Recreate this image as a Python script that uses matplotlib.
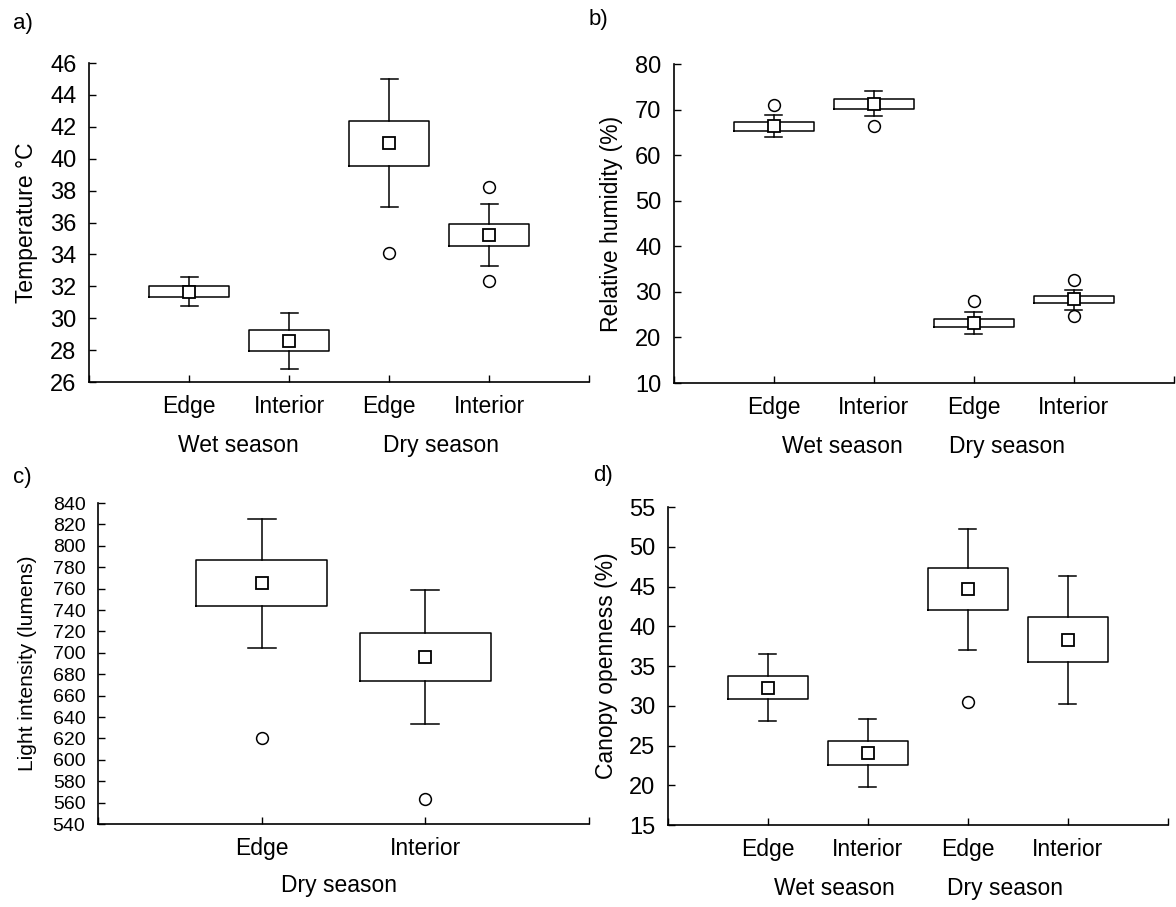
import matplotlib
matplotlib.use("Agg")
import matplotlib.pyplot as plt

plt.rcParams['font.family'] = ['Liberation Sans', 'DejaVu Sans']

# categories
cats4 = ['Edge', 'Interior', 'Edge', 'Interior']
cats2 = ['Edge', 'Interior']

# a) temperature
temp_mean = [31.66, 28.59, 40.98, 35.24]
temp_lo = [31.30, 27.92, 39.56, 34.55]
temp_hi = [32.00, 29.24, 42.38, 35.93]
temp_wlo = [30.77, 26.79, 36.95, 33.27]
temp_whi = [32.56, 30.35, 44.98, 37.18]
temp_out = [[], [], [34.09], [38.2, 32.35]]

# b) relative humidity
rh_mean = [66.3, 71.3, 23.2, 28.4]
rh_lo = [65.4, 70.2, 22.3, 27.5]
rh_hi = [67.3, 72.4, 24.0, 29.1]
rh_wlo = [63.9, 68.5, 20.8, 26.1]
rh_whi = [68.9, 74.1, 25.5, 30.5]
rh_out = [[71.0], [66.5], [28.1], [32.5, 24.6]]

# c) light intensity (dry season only)
light_mean = [765.4, 696.1]
light_lo = [743.9, 673.9]
light_hi = [786.3, 718.3]
light_wlo = [704.8, 633.3]
light_whi = [824.7, 758.8]
light_out = [[620.2], [563.1]]

# d) canopy openness
can_mean = [32.27, 24.08, 44.68, 38.28]
can_lo = [30.80, 22.57, 42.00, 35.48]
can_hi = [33.77, 25.54, 47.35, 41.13]
can_wlo = [28.05, 19.77, 37.07, 30.26]
can_whi = [36.57, 28.38, 52.28, 46.31]
can_out = [[], [], [30.43], []]


def make_stats(mean, lo, hi, wlo, whi, out):
    stats = []
    for i in range(len(mean)):
        stats.append(dict(mean=mean[i], med=mean[i], q1=lo[i], q3=hi[i],
                          whislo=wlo[i], whishi=whi[i], fliers=out[i]))
    return stats


def draw(ax, stats, cats, ylim, yticks, ylabel, fs_tick, fs_lab, labx):
    n = len(cats)
    pos = list(range(1, n + 1))
    ax.bxp(stats, positions=pos, widths=0.8, capwidths=0.17, showmeans=True,
           boxprops=dict(color='black', linewidth=1.1),
           whiskerprops=dict(color='black', linewidth=1.1),
           capprops=dict(color='black', linewidth=1.1),
           medianprops=dict(linewidth=0),
           meanprops=dict(marker='s', markerfacecolor='white', markeredgecolor='black',
                          markersize=8.5, markeredgewidth=1.3),
           flierprops=dict(marker='o', markerfacecolor='white', markeredgecolor='black',
                           markersize=8.5, markeredgewidth=1.1))
    ax.set_xlim(0, n + 1)
    ax.set_ylim(ylim)
    ax.set_yticks(yticks)
    ax.set_xticks(list(range(0, n + 2)))
    ax.set_xticklabels([''] + cats + [''], fontsize=16.5)
    ax.tick_params(axis='y', direction='in', length=5, width=1, pad=9, labelsize=fs_tick)
    ax.tick_params(axis='x', direction='in', length=5, width=1, pad=9)
    ax.spines['top'].set_visible(False)
    ax.spines['right'].set_visible(False)
    ax.spines['left'].set_linewidth(1.2)
    ax.spines['bottom'].set_linewidth(1.2)
    ax.set_ylabel(ylabel, fontsize=fs_lab, va='center')
    ax.yaxis.set_label_coords(labx, 0.5)


def season(ax, x, text, off):
    ax.annotate(text, xy=(x, 0), xycoords=('data', 'axes fraction'),
                xytext=(0, -off), textcoords='offset points',
                ha='center', va='center', fontsize=16.5)


fig = plt.figure(figsize=(11.76, 9.07), dpi=100)
ax1 = fig.add_axes([0.0757, 0.5788, 0.4252, 0.3517])
ax2 = fig.add_axes([0.5731, 0.5777, 0.4252, 0.3517])
ax3 = fig.add_axes([0.0833, 0.0915, 0.4175, 0.3539])
ax4 = fig.add_axes([0.5680, 0.0904, 0.4252, 0.3506])

draw(ax1, make_stats(temp_mean, temp_lo, temp_hi, temp_wlo, temp_whi, temp_out),
     cats4, (26, 46), range(26, 47, 2), 'Temperature °C', 17, 16.5, -0.126)
season(ax1, 1.49, 'Wet season', 46)
season(ax1, 3.52, 'Dry season', 46)

draw(ax2, make_stats(rh_mean, rh_lo, rh_hi, rh_wlo, rh_whi, rh_out),
     cats4, (10, 80), range(10, 81, 10), 'Relative humidity (%)', 17, 16.5, -0.124)
season(ax2, 1.68, 'Wet season', 46)
season(ax2, 3.33, 'Dry season', 46)

draw(ax3, make_stats(light_mean, light_lo, light_hi, light_wlo, light_whi, light_out),
     cats2, (540, 840), range(540, 841, 20), 'Light intensity (lumens)', 14, 15, -0.143)
season(ax3, 1.47, 'Dry season', 44)

draw(ax4, make_stats(can_mean, can_lo, can_hi, can_wlo, can_whi, can_out),
     cats4, (15, 55), range(15, 56, 5), 'Canopy openness (%)', 17, 16.5, -0.122)
season(ax4, 1.66, 'Wet season', 46)
season(ax4, 3.37, 'Dry season', 46)

fig.text(23 / 1176, 1 - 23 / 907, 'a)', fontsize=16, ha='center', va='center')
fig.text(598 / 1176, 1 - 20 / 907, 'b)', fontsize=16, ha='center', va='center')
fig.text(22 / 1176, 1 - 478 / 907, 'c)', fontsize=16, ha='center', va='center')
fig.text(603 / 1176, 1 - 476 / 907, 'd)', fontsize=16, ha='center', va='center')

fig.savefig('out.png', dpi=100)
